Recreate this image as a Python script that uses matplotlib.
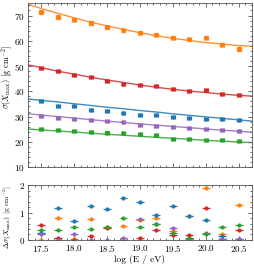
import numpy as np
import matplotlib
matplotlib.use("Agg")
import matplotlib.pyplot as plt
from matplotlib.ticker import MultipleLocator

#### data ####
lgE = [17.5, 17.75, 18.0, 18.25, 18.5, 18.75, 19.0, 19.25, 19.5, 19.75, 20.0, 20.25, 20.5]

sig_orange = [71.3, 69.3, 68.4, 67.0, 65.5, 64.2, 63.2, 62.4, 61.2, 60.6, 61.2, 58.4, 56.8]
sig_red = [49.1, 47.9, 46.3, 45.8, 44.0, 42.9, 42.6, 42.1, 41.1, 40.3, 40.7, 39.0, 38.7]
sig_blue = [36.0, 34.3, 34.2, 32.8, 32.3, 31.3, 30.7, 30.7, 29.8, 29.5, 29.2, 28.9, 28.7]
sig_purple = [30.1, 29.3, 28.9, 28.5, 28.1, 27.7, 26.8, 26.3, 25.9, 25.5, 25.0, 24.7, 24.2]
sig_green = [25.1, 24.6, 24.3, 23.9, 23.7, 23.5, 23.0, 22.6, 21.2, 21.2, 20.9, 20.6, 20.2]

err_orange = [0.8, 0.8, 0.7, 0.7, 0.7, 0.6, 0.6, 0.6, 0.6, 0.6, 0.6, 0.6, 0.7]
err_other = [0.4] * 13

# model curves
lgE_line = [17.3, 17.5, 17.75, 18.0, 18.25, 18.5, 18.75, 19.0, 19.25, 19.5, 19.75, 20.0, 20.25, 20.5, 20.7]
line_orange = [74.4, 72.8, 70.9, 69.1, 67.4, 65.9, 64.5, 63.2, 62.0, 61.0, 60.1, 59.3, 58.7, 58.1, 57.8]
line_red = [50.5, 49.4, 48.0, 46.8, 45.6, 44.5, 43.5, 42.5, 41.6, 40.8, 40.1, 39.5, 38.9, 38.4, 38.1]
line_blue = [37.0, 36.4, 35.8, 35.1, 34.4, 33.7, 33.1, 32.4, 31.8, 31.1, 30.5, 29.9, 29.3, 28.7, 28.2]
line_purple = [31.1, 30.6, 30.0, 29.4, 28.8, 28.2, 27.7, 27.1, 26.6, 26.1, 25.6, 25.1, 24.6, 24.2, 23.8]
line_green = [25.1, 24.7, 24.3, 23.9, 23.4, 23.0, 22.6, 22.2, 21.8, 21.4, 21.0, 20.6, 20.3, 19.9, 19.7]

# residual differences
d_orange = [0.0, 0.80, 0.02, 0.78, 0.47, 0.52, 0.72, 0.79, 0.31, 0.88, 1.91, 0.21, 1.28]
d_red = [0.55, 0.06, 0.0, 0.13, 0.43, 0.0, 0.07, 0.38, 0.17, 0.17, 1.18, 0.0, 0.37]
d_blue = [0.25, 1.17, 0.68, 1.25, 1.11, 1.53, 1.39, 0.92, 1.23, 0.88, 0.74, 0.13, 0.03]
d_purple = [0.21, 0.01, 0.23, 0.01, 0.01, 0.06, 0.75, 0.58, 0.42, 0.02, 0.24, 0.02, 0.03]
d_green = [0.35, 0.35, 0.49, 0.39, 0.46, 0.79, 0.48, 0.57, 0.25, 0.08, 0.23, 0.46, 0.53]

#### style ####
plt.rcParams['font.family'] = 'serif'
plt.rcParams['font.serif'] = ['cmr10']
plt.rcParams['mathtext.fontset'] = 'cm'
plt.rcParams['axes.formatter.use_mathtext'] = True
plt.rcParams['font.size'] = 7

c_orange = '#ff7f0e'
c_red = '#d62728'
c_blue = '#1f77b4'
c_purple = '#9467bd'
c_green = '#2ca02c'

fig = plt.figure(figsize=(2.54, 2.64), dpi=100)
ax = fig.add_axes([0.11, 0.367, 0.882, 0.622])
ax2 = fig.add_axes([0.11, 0.091, 0.882, 0.208])

series = [
    (sig_orange, err_orange, line_orange, d_orange, c_orange),
    (sig_red, err_other, line_red, d_red, c_red),
    (sig_blue, err_other, line_blue, d_blue, c_blue),
    (sig_purple, err_other, line_purple, d_purple, c_purple),
    (sig_green, err_other, line_green, d_green, c_green),
]

for sig, err, line, d, col in series:
    ax.plot(lgE_line, line, color=col, lw=1.0, alpha=0.85, zorder=1)
    ax.errorbar(lgE, sig, yerr=err, xerr=0.03, fmt='o', ms=2.2, color=col,
                elinewidth=0.9, capsize=1.5, capthick=0.9, zorder=2)
    ax2.errorbar(lgE, d, yerr=0.03, xerr=0.06, fmt='o', ms=2.0, color=col,
                 elinewidth=0.9, capsize=0, zorder=2)

for a in (ax, ax2):
    a.set_xlim(17.3, 20.7)
    a.xaxis.set_major_locator(MultipleLocator(0.5))
    a.xaxis.set_minor_locator(MultipleLocator(0.1))
    a.tick_params(which='both', direction='in', top=True, right=True,
                  labelsize=6.5, width=0.6, color='#555555', pad=2)
    a.tick_params(which='major', length=3)
    a.tick_params(which='minor', length=1.6)
    for s in a.spines.values():
        s.set_linewidth(0.6)
        s.set_color('#555555')

ax.set_ylim(10, 75)
ax.yaxis.set_major_locator(MultipleLocator(10))
ax.yaxis.set_minor_locator(MultipleLocator(2))
ax.tick_params(labelbottom=False)
ax.set_ylabel(r'$\sigma(X_{\max})$ [g cm$^{-2}$]', fontsize=6.0)
ax.yaxis.set_label_coords(-0.058, 0.55)

ax2.set_ylim(0, 2)
ax2.yaxis.set_major_locator(MultipleLocator(1))
ax2.yaxis.set_minor_locator(MultipleLocator(0.2))
ax2.set_ylabel(r'$\Delta\sigma(X_{\max})$ [g cm$^{-2}$]', fontsize=5.4)
ax2.yaxis.set_label_coords(-0.062, 0.42)
ax2.set_xlabel('log (E / eV)', fontsize=6.8, labelpad=1)

fig.savefig('out.png', dpi=100)
